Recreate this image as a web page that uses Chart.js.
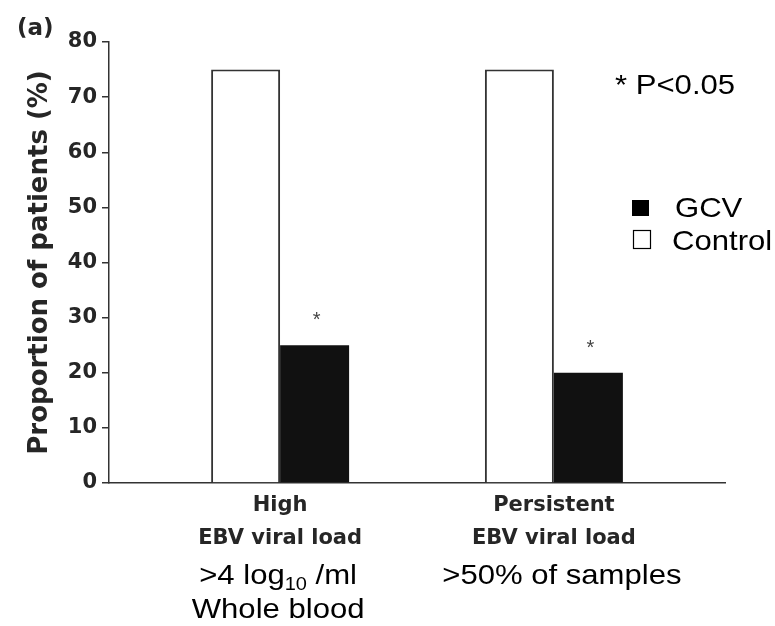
<!DOCTYPE html>
<html>
<head>
<meta charset="utf-8">
<script src="https://cdn.jsdelivr.net/npm/chart.js@4"></script>
<style>html,body{margin:0;background:#fff}</style>
</head>
<body>
<canvas id="myChart" width="775" height="626"></canvas>
<script>
// data
const categories=[['High','EBV viral load'],['Persistent','EBV viral load']];
const notes=[['>4 log_10 /ml','Whole blood'],['>50% of samples']];
const gcvValues=[25,20];
const controlValues=[75,75];
const starred=[true,true];
const yMax=80, yStep=10;

const BOLD='"DejaVu Sans", sans-serif';
const SANS='"Liberation Sans", Arial, sans-serif';
const INK='#262626';
const STRETCH=1.11; // the source text is a bit wider than plain Arial

function wideText(ctx,text,x,y){
 ctx.save();
 ctx.translate(x,y);
 ctx.scale(STRETCH,1);
 ctx.fillText(text,0,0);
 ctx.restore();
}

// one line of note text, "_10" is drawn as a subscript
function drawNote(ctx,text,cx,base){
 const parts=text.split(/_(\d+)/);
 const big='28px '+SANS, small='18px '+SANS;
 let w=0;
 parts.forEach((p,i)=>{ctx.font=i%2?small:big; w+=ctx.measureText(p).width;});
 ctx.save();
 ctx.translate(cx,base);
 ctx.scale(STRETCH,1);
 let x=-w/2;
 ctx.textAlign='left';
 ctx.textBaseline='alphabetic';
 parts.forEach((p,i)=>{
  ctx.font=i%2?small:big;
  ctx.fillText(p,x,i%2?6:0);
  x+=ctx.measureText(p).width;
 });
 ctx.restore();
}

const extras={
 id:'extras',
 afterDraw(chart){
  const {ctx}=chart;
  const xs=chart.scales.x;
  ctx.save();

  // significance stars over the GCV bars
  ctx.fillStyle='#444';
  ctx.font='20px '+SANS;
  ctx.textAlign='center';
  ctx.textBaseline='alphabetic';
  chart.getDatasetMeta(1).data.forEach((bar,i)=>{
   if(starred[i]) ctx.fillText('*',bar.x+2,bar.y-19);
  });

  // plain notes under the category labels
  ctx.fillStyle='#000';
  const noteDx=[-2,8];
  notes.forEach((lines,i)=>{
   const cx=xs.getPixelForValue(i+1)+noteDx[i];
   lines.forEach((t,j)=>drawNote(ctx,t,cx,584+j*34));
  });

  // panel letter
  ctx.fillStyle=INK;
  ctx.font='bold 23px '+BOLD;
  ctx.textAlign='left';
  ctx.textBaseline='middle';
  ctx.fillText('(a)',17,29);

  // p-value note
  ctx.fillStyle='#000';
  ctx.font='28px '+SANS;
  ctx.textBaseline='alphabetic';
  wideText(ctx,'* P<0.05',615,94);

  // legend, GCV first
  const items=chart.data.datasets.slice().reverse();
  items.forEach((ds,i)=>{
   const base=217+i*33;
   if(ds.label==='GCV'){
    ctx.fillStyle='#000';
    ctx.fillRect(632,base-17,17,16);
   }else{
    ctx.strokeStyle='#000';
    ctx.lineWidth=1.2;
    ctx.strokeRect(633.5,base-19.5,17,18);
   }
   ctx.fillStyle='#000';
   ctx.font='28px '+SANS;
   wideText(ctx,ds.label,ds.label==='GCV'?675:672,base);
  });
  ctx.restore();
 }
};

new Chart(document.getElementById('myChart'),{
 type:'bar',
 data:{
  datasets:[
   {label:'Control',data:controlValues.map((v,i)=>({x:i+1,y:v})),
    backgroundColor:'#fff',borderColor:'#333',borderWidth:2},
   {label:'GCV',data:gcvValues.map((v,i)=>({x:i+1,y:v})),
    backgroundColor:'#111',borderColor:'#111',borderWidth:0}
  ]
 },
 options:{
  responsive:false,
  animation:false,
  categoryPercentage:0.504,
  barPercentage:1,
  layout:{padding:{top:42,right:50,left:0,bottom:0}},
  plugins:{legend:{display:false},tooltip:{enabled:false}},
  scales:{
   x:{
    type:'linear',min:0.375,max:2.625,offset:false,
    afterBuildTicks:s=>{s.ticks=categories.map((c,i)=>({value:i+1}));},
    afterFit:s=>{s.height=143;},
    grid:{display:false,drawTicks:false,offset:false},
    border:{display:true,color:'#333',width:1.5},
    ticks:{
     callback:v=>categories[Math.round(v)-1],
     padding:6,maxRotation:0,autoSkip:false,
     color:INK,font:{family:BOLD,size:21,weight:'bold',lineHeight:1.57}
    }
   },
   y:{
    min:0,max:yMax,
    afterFit:s=>{s.width=109;},
    ticks:{stepSize:yStep,color:INK,padding:5,font:{family:BOLD,size:21,weight:'bold'}},
    grid:{drawOnChartArea:false,tickLength:7,color:'#333',lineWidth:1.5},
    border:{color:'#333',width:1.5},
    title:{display:true,text:'Proportion of patients (%)',color:INK,
     font:{family:BOLD,size:26,weight:'bold'},padding:{top:25,bottom:0}}
   }
  }
 },
 plugins:[extras]
});
</script>
</body>
</html>
